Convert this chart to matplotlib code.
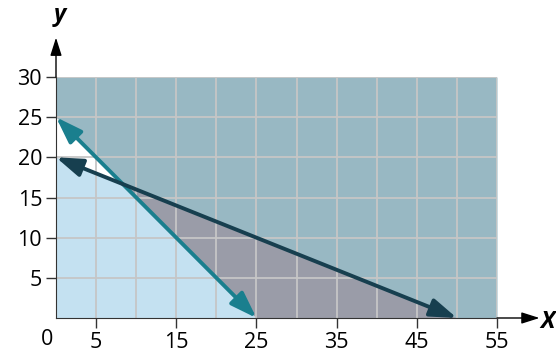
import numpy as np
import matplotlib.pyplot as plt

plt.rcParams['font.family'] = ['Open Sans', 'DejaVu Sans']

# boundary lines (end points)
teal_x = [0, 25]
teal_y = [25, 0]
navy_x = [0, 50]
navy_y = [20, 0]

x_ticks = [5, 15, 25, 35, 45, 55]
y_ticks = [5, 10, 15, 20, 25, 30]
x_max, y_max = 55, 30

c_top = '#98b8c3'
c_gray = '#9a9ca8'
c_light = '#c4e1f1'
c_teal = '#1a7f8e'
c_navy = '#173f4f'

fig = plt.figure(figsize=(5.56, 3.58), dpi=100)
ax = fig.add_axes([56/556, 40/358, 441/556, 241/358])
ax.set_xlim(0, x_max)
ax.set_ylim(0, y_max)

# regions
xs = np.linspace(0, x_max, 1101)
teal = np.interp(xs, teal_x, teal_y)
navy = np.interp(xs, navy_x, navy_y)
ax.fill_between(xs, 0, y_max, color=c_top, lw=0, zorder=0)
ax.fill_between(xs, 0, teal, color='white', lw=0, zorder=0.1)
ax.fill_between(xs, 0, navy, color=c_gray, lw=0, zorder=0.2)
ax.fill_between(xs, 0, np.minimum(teal, navy), color=c_light, lw=0, zorder=0.3)

# grid
for gx in range(5, x_max + 1, 5):
    ax.axvline(gx, color='#c6c6c6', lw=1.3, zorder=1)
for gy in range(5, y_max + 1, 5):
    ax.axhline(gy, color='#c6c6c6', lw=1.3, zorder=1)

# boundary lines with arrows at both ends
for lx, ly, col in [(teal_x, teal_y, c_teal), (navy_x, navy_y, c_navy)]:
    ax.annotate('', xy=(lx[0], ly[0]), xytext=(lx[1], ly[1]),
                arrowprops=dict(arrowstyle='<|-|>,head_length=1.6,head_width=0.55',
                                color=col, lw=2.8, shrinkA=0, shrinkB=0),
                zorder=3, annotation_clip=False)

# axes
for s in ['top', 'right']:
    ax.spines[s].set_visible(False)
ax.spines['left'].set_color('#333333')
ax.spines['bottom'].set_color('#333333')
ax.spines['left'].set_zorder(4)
ax.spines['bottom'].set_zorder(4)
ax.annotate('', xy=(60.3, 0), xytext=(x_max, 0),
            arrowprops=dict(arrowstyle='-|>,head_length=1.1,head_width=0.35',
                            color='black', lw=1, shrinkA=0, shrinkB=0),
            annotation_clip=False)
ax.annotate('', xy=(0, 34.9), xytext=(0, y_max),
            arrowprops=dict(arrowstyle='-|>,head_length=1.1,head_width=0.35',
                            color='black', lw=1, shrinkA=0, shrinkB=0),
            annotation_clip=False)

ax.set_xticks(x_ticks)
ax.set_yticks(y_ticks)
ax.tick_params(length=7, width=1, color='#333333', labelsize=15.5, pad=3)
ax.text(-0.4, -1.4, '0', ha='right', va='top', fontsize=15.5)
ax.text(61.3, -0.5, 'X', ha='center', va='center', fontsize=17,
        fontweight='bold', fontstyle='italic')
ax.text(0.5, 37.7, 'y', ha='center', va='center', fontsize=17,
        fontweight='bold', fontstyle='italic')

fig.savefig('out.png', dpi=100)
